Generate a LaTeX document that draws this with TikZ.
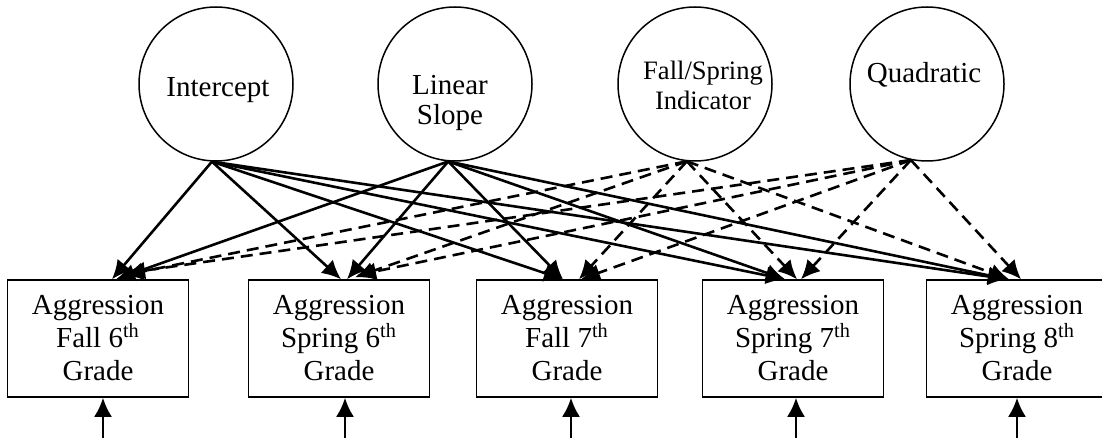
\documentclass[tikz,border=0pt]{standalone}
\usepackage{fontspec}
\setmainfont{Liberation Serif}
\usetikzlibrary{arrows.meta}
\tikzset{arrow/.style={->, >={Latex[length=9.5pt,width=9pt]}, line width=1.3pt}}
\tikzset{darrow/.style={arrow, dash pattern=on 6pt off 3.5pt}}
\tikzset{latent/.style={draw, circle, minimum size=77pt, inner sep=0pt, line width=0.75pt}}
\tikzset{lbl/.style={align=center, anchor=base, font=\fontsize{14.5}{15}\selectfont}}
\tikzset{obs/.style={draw, rectangle, minimum width=90.5pt, minimum height=58.5pt, line width=0.75pt, align=center, font=\fontsize{14.5}{16.5}\selectfont}}

\begin{document}
\begin{tikzpicture}[x=0.5pt, y=-0.5pt]
    \useasboundingbox (0,0) rectangle (1102,438);
    % growth factors
    \node[latent] (int) at (216, 84) {};
    \node[latent] (lin) at (455, 84) {};
    \node[latent] (fs) at (695, 84) {};
    \node[latent] (quad) at (927, 84) {};
    \node[lbl] (intT) at (218, 97) {Intercept};
    \node[lbl] (linT) at (450, 125) {Linear\\Slope};
    \node[lbl, font=\fontsize{13.3}{15}\selectfont] (fsT) at (703, 110) {Fall/Spring\\Indicator};
    \node[lbl] (quadT) at (924, 83) {Quadratic};
    % repeated measures
    \node[obs] (b1) at (98, 338.5) {Aggression\\Fall 6\textsuperscript{th}\\Grade};
    \node[obs] (b2) at (339, 338.5) {Aggression\\Spring 6\textsuperscript{th}\\Grade};
    \node[obs] (b3) at (567, 338.5) {Aggression\\Fall 7\textsuperscript{th}\\Grade};
    \node[obs] (b4) at (793, 338.5) {Aggression\\Spring 7\textsuperscript{th}\\Grade};
    \node[obs] (b5) at (1017, 338.5) {Aggression\\Spring 8\textsuperscript{th}\\Grade};
    % intercept and slope
    \draw[arrow] (int.-93) to ([xshift=7pt]b1.north);
    \draw[arrow] (int.-93) to ([xshift=1pt]b2.north);
    \draw[arrow] (int.-93) to ([xshift=-2pt]b3.north);
    \draw[arrow] (int.-93) to ([xshift=-4pt]b4.north);
    \draw[arrow] (int.-93) to ([xshift=-5pt]b5.north);
    \draw[arrow] (lin.-95) to ([xshift=9pt]b1.north);
    \draw[arrow] (lin.-95) to ([xshift=4pt]b2.north);
    \draw[arrow] (lin.-95) to ([xshift=-2pt]b3.north);
    \draw[arrow] (lin.-95) to ([xshift=-4pt]b4.north);
    \draw[arrow] (lin.-95) to ([xshift=-5pt]b5.north);
    % fall/spring and quadratic
    \draw[darrow] (fs.-96) to ([xshift=13pt, yshift=2pt]b1.north);
    \draw[darrow] (fs.-96) to ([xshift=8pt, yshift=1pt]b2.north);
    \draw[darrow] (fs.-96) to ([xshift=6pt]b3.north);
    \draw[darrow] (fs.-96) to ([xshift=2pt]b4.north);
    \draw[darrow] (fs.-96) to ([xshift=-4pt]b5.north);
    \draw[darrow] (quad.-102) to ([xshift=14pt, yshift=3pt]b1.north);
    \draw[darrow] (quad.-102) to ([xshift=9pt, yshift=2pt]b2.north);
    \draw[darrow] (quad.-102) to ([xshift=7pt]b3.north);
    \draw[darrow] (quad.-102) to ([xshift=4pt]b4.north);
    \draw[darrow] (quad.-102) to ([xshift=2pt]b5.north);
    % residuals
    \coordinate (e1) at (103, 438);
    \coordinate (e2) at (345, 438);
    \coordinate (e3) at (571, 438);
    \coordinate (e4) at (796, 438);
    \coordinate (e5) at (1017, 438);
    \draw[arrow] (e1) to (e1 |- b1.south);
    \draw[arrow] (e2) to (e2 |- b2.south);
    \draw[arrow] (e3) to (e3 |- b3.south);
    \draw[arrow] (e4) to (e4 |- b4.south);
    \draw[arrow] (e5) to (e5 |- b5.south);
\end{tikzpicture}
\end{document}
